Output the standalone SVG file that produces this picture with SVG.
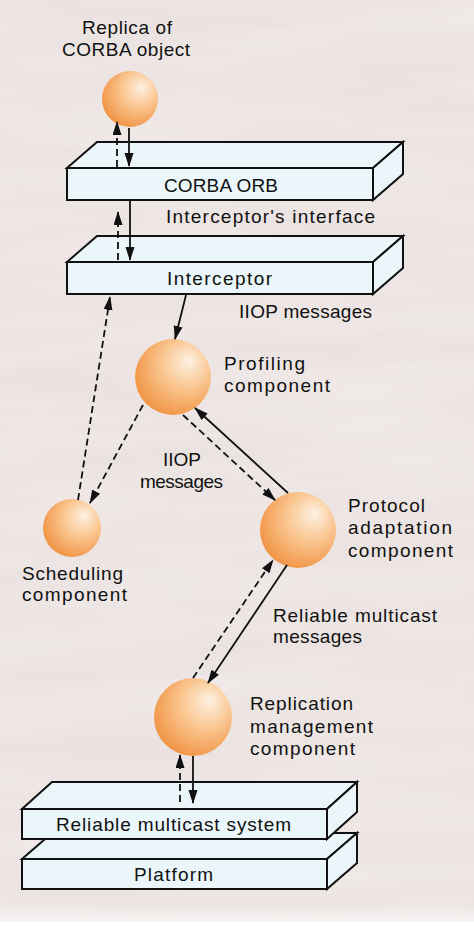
<svg xmlns="http://www.w3.org/2000/svg" width="474" height="934" viewBox="0 0 474 934">
<style>
.t{font-family:"Liberation Sans",Arial,sans-serif;font-size:19px;fill:#111;}
.box{fill:#eaf6f9;stroke:#111;stroke-width:2;stroke-linejoin:miter;}
.ball{fill:url(#ballGrad);}
.c{fill:none;stroke:#111;stroke-width:1.8;}
.d{stroke-dasharray:7 4;}
</style>
<defs>
<radialGradient id="ballGrad" cx="0.62" cy="0.38" r="0.7" fx="0.72" fy="0.28">
<stop offset="0" stop-color="#fdf1e3"/>
<stop offset="0.45" stop-color="#fac792"/>
<stop offset="1" stop-color="#f0903e"/>
</radialGradient>
<linearGradient id="bottomFade" x1="0" y1="0" x2="0" y2="1">
<stop offset="0" stop-color="#ffffff" stop-opacity="0"/>
<stop offset="1" stop-color="#ffffff" stop-opacity="1"/>
</linearGradient>
<filter id="marble" x="0" y="0" width="100%" height="100%">
<feTurbulence type="fractalNoise" baseFrequency="0.004 0.03" numOctaves="3" seed="4"/>
<feColorMatrix type="matrix" values="0 0 0 0 1  0 0 0 0 1  0 0 0 0 1  0 0 0 0.35 0"/>
</filter>
<marker id="ah" markerUnits="userSpaceOnUse" markerWidth="14" markerHeight="10" refX="13" refY="4.5" orient="auto">
<path d="M0,0 L14,4.5 L0,9 z" fill="#111"/>
</marker>
</defs>
<rect x="0" y="0" width="474" height="934" fill="#e9e0de"/>
<rect x="0" y="0" width="474" height="934" filter="url(#marble)"/>
<rect x="0" y="904" width="474" height="30" fill="url(#bottomFade)"/>
<rect x="0" y="922" width="474" height="12" fill="#ffffff"/>

<g id="replica">
<circle class="ball" cx="130" cy="99" r="28"/>
<text class="t" x="82" y="34" textLength="90" lengthAdjust="spacing">Replica of</text>
<text class="t" x="62" y="56" textLength="128" lengthAdjust="spacing">CORBA object</text>
</g>

<g id="corba-orb">
<polygon class="box" points="67,168 97,142 403,142 373,168"/>
<polygon class="box" points="373,168 403,142 403,174 373,200"/>
<rect class="box" x="67" y="168" width="306" height="32"/>
<text class="t" x="164" y="192" textLength="114" lengthAdjust="spacing">CORBA ORB</text>
</g>

<g id="interceptor">
<polygon class="box" points="67,262 97,236 403,236 373,262"/>
<polygon class="box" points="373,262 403,236 403,268 373,294"/>
<rect class="box" x="67" y="262" width="306" height="32"/>
<text class="t" x="167" y="285" textLength="105" lengthAdjust="spacing">Interceptor</text>
</g>

<g id="profiling">
<circle class="ball" cx="173" cy="377" r="38"/>
<text class="t" x="224" y="370" textLength="81" lengthAdjust="spacing">Profiling</text>
<text class="t" x="224" y="392" textLength="106" lengthAdjust="spacing">component</text>
</g>

<g id="scheduling">
<circle class="ball" cx="72" cy="528" r="29"/>
<text class="t" x="22" y="580" textLength="101" lengthAdjust="spacing">Scheduling</text>
<text class="t" x="22" y="601" textLength="105" lengthAdjust="spacing">component</text>
</g>

<g id="protocol-adaptation">
<circle class="ball" cx="298" cy="530" r="38"/>
<text class="t" x="348" y="512" textLength="77" lengthAdjust="spacing">Protocol</text>
<text class="t" x="348" y="534" textLength="104" lengthAdjust="spacing">adaptation</text>
<text class="t" x="348" y="557" textLength="105" lengthAdjust="spacing">component</text>
</g>

<g id="replication-management">
<circle class="ball" cx="193" cy="717" r="39"/>
<text class="t" x="250" y="710" textLength="103" lengthAdjust="spacing">Replication</text>
<text class="t" x="250" y="733" textLength="123" lengthAdjust="spacing">management</text>
<text class="t" x="250" y="755" textLength="105" lengthAdjust="spacing">component</text>
</g>

<g id="platform">
<polygon class="box" points="22,859 52,833 357,833 327,859"/>
<polygon class="box" points="327,859 357,833 357,863 327,889"/>
<rect class="box" x="22" y="859" width="305" height="30"/>
<text class="t" x="134" y="881" textLength="79" lengthAdjust="spacing">Platform</text>
</g>

<g id="reliable-multicast-system">
<polygon class="box" points="22,809 52,782 357,782 327,809"/>
<polygon class="box" points="327,809 357,782 357,812 327,839"/>
<rect class="box" x="22" y="809" width="305" height="30"/>
<text class="t" x="56" y="831" textLength="235" lengthAdjust="spacing">Reliable multicast system</text>
</g>

<g id="labels">
<text class="t" x="166" y="223" textLength="209" lengthAdjust="spacing">Interceptor's interface</text>
<text class="t" x="239" y="318" textLength="133" lengthAdjust="spacing">IIOP messages</text>
<text class="t" x="163" y="466" textLength="38" lengthAdjust="spacing">IIOP</text>
<text class="t" x="140" y="488" textLength="83" lengthAdjust="spacing">messages</text>
<text class="t" x="273" y="622" textLength="164" lengthAdjust="spacing">Reliable multicast</text>
<text class="t" x="273" y="643" textLength="89" lengthAdjust="spacing">messages</text>
</g>

<g id="connectors">
<line class="c d" x1="117" y1="167" x2="117" y2="122" marker-end="url(#ah)"/>
<line class="c" x1="129" y1="128" x2="129" y2="166" marker-end="url(#ah)"/>
<line class="c d" x1="118" y1="260" x2="118" y2="212" marker-end="url(#ah)"/>
<line class="c" x1="130" y1="200" x2="130" y2="260" marker-end="url(#ah)"/>
<line class="c" x1="186" y1="295" x2="175" y2="339" marker-end="url(#ah)"/>
<line class="c d" x1="78" y1="500" x2="110" y2="297" marker-end="url(#ah)"/>
<line class="c d" x1="143" y1="405" x2="90" y2="503" marker-end="url(#ah)"/>
<line class="c d" x1="183" y1="415" x2="275" y2="500" marker-end="url(#ah)"/>
<line class="c" x1="288" y1="493" x2="195" y2="408" marker-end="url(#ah)"/>
<line class="c d" x1="193" y1="678" x2="273" y2="560" marker-end="url(#ah)"/>
<line class="c" x1="287" y1="565" x2="208" y2="683" marker-end="url(#ah)"/>
<line class="c d" x1="180" y1="802" x2="180" y2="755" marker-end="url(#ah)"/>
<line class="c" x1="193" y1="756" x2="193" y2="803" marker-end="url(#ah)"/>
</g>
</svg>
